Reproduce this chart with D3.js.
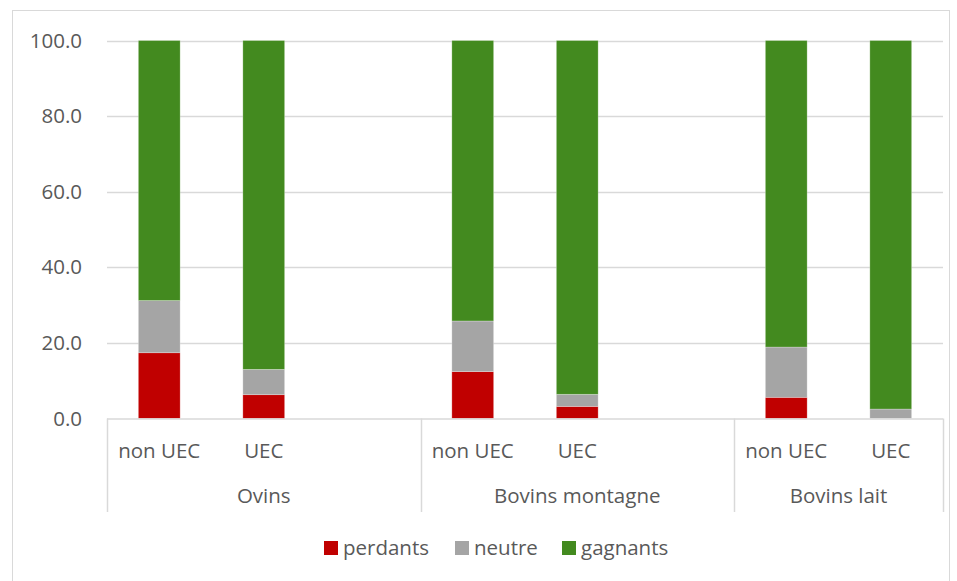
<!DOCTYPE html>
<html><head><meta charset="utf-8">
<script src="https://cdn.jsdelivr.net/npm/d3@7"></script>
<style>body{margin:0;background:#fff}svg{display:block}text{font-family:"Open Sans",sans-serif;fill:#595959}</style>
</head><body><svg id="c" width="957" height="581"></svg>
<script>
const groups = ["Ovins","Bovins montagne","Bovins lait"];
const subCategories = [["non UEC","UEC",""],["non UEC","UEC",""],["non UEC","UEC"]];
const seriesNames = ["perdants","neutre","gagnants"];
const seriesColors = ["#c00000","#a5a5a5","#438a1f"];
// values per bar (in order of slots with bars)
const perdants = [17.4, 6.3, 12.4, 3.2, 5.6, 0.0];
const neutre   = [13.8, 6.7, 13.4, 3.2, 13.3, 2.5];
const gagnants = [68.8, 87.0, 74.2, 93.6, 81.1, 97.5];
const yTicks = [0,20,40,60,80,100];

(function(){
const FS = "20.5px";
const svg = d3.select("#c");
svg.append("rect").attr("x",12.5).attr("y",10.5).attr("width",937).attr("height",575)
  .attr("fill","none").attr("stroke","#d9d9d9");

const pLeft=107, pRight=943, pTop=40.5, pBottom=418.5;
const slots=[];
groups.forEach((g,gi)=>subCategories[gi].forEach((s,si)=>slots.push({g,gi,s,id:gi+"-"+si})));
const x = d3.scaleBand().domain(slots.map(d=>d.id)).range([pLeft,pRight]).paddingInner(0.6).paddingOuter(0.3);
const y = d3.scaleLinear().domain([0,100]).range([pBottom,pTop]);

svg.append("g").selectAll("line").data(yTicks.slice(1)).join("line")
  .attr("x1",pLeft).attr("x2",pRight).attr("y1",d=>Math.round(y(d))+0.5).attr("y2",d=>Math.round(y(d))+0.5)
  .attr("stroke","#d9d9d9").attr("stroke-width",1.5);

const yAxis = d3.axisLeft(y).tickValues(yTicks).tickFormat(d3.format(".1f")).tickSize(0).tickPadding(0);
const ya = svg.append("g").attr("transform","translate(82,0)").call(yAxis);
ya.select(".domain").remove();
ya.selectAll("text").style("font-size",FS).style("font-family","'Open Sans',sans-serif").attr("fill","#595959");

const barSlots = slots.filter(d=>d.s!=="");
const rows = barSlots.map((d,i)=>({id:d.id,perdants:perdants[i],neutre:neutre[i],gagnants:gagnants[i]}));
const stack = d3.stack().keys(seriesNames)(rows);
const color = d3.scaleOrdinal().domain(seriesNames).range(seriesColors);
svg.append("g").selectAll("g").data(stack).join("g").attr("fill",d=>color(d.key))
  .selectAll("rect").data(d=>d).join("rect")
  .attr("x",d=>x(d.data.id)).attr("width",x.bandwidth())
  .attr("y",d=>y(d[1])).attr("height",d=>Math.max(0,y(d[0])-y(d[1])))
  .attr("stroke","rgba(255,255,255,0.35)").attr("stroke-width",0.75);

const axisG = svg.append("g");
axisG.append("line").attr("x1",pLeft).attr("x2",pRight).attr("y1",pBottom+0.5).attr("y2",pBottom+0.5)
  .attr("stroke","#d9d9d9").attr("stroke-width",1.5);
const bounds=[];
groups.forEach((g,gi)=>{
  const ids=slots.filter(d=>d.gi===gi).map(d=>d.id);
  bounds.push(x(ids[ids.length-1])+x.bandwidth()+x.step()*x.paddingInner()/2);
});
const seps=[pLeft, ...bounds.slice(0,-1), pRight];
axisG.selectAll("line.sep").data(seps).join("line").attr("class","sep")
  .attr("x1",d=>Math.round(d)+0.5).attr("x2",d=>Math.round(d)+0.5).attr("y1",pBottom).attr("y2",512)
  .attr("stroke","#d9d9d9").attr("stroke-width",1.5);

svg.append("g").selectAll("text").data(barSlots).join("text")
  .attr("x",d=>x(d.id)+x.bandwidth()/2).attr("y",451).attr("dy","0.35em")
  .attr("text-anchor","middle").style("font-size",FS).text(d=>d.s);
svg.append("g").selectAll("text").data(groups).join("text")
  .attr("x",(d,i)=>(seps[i]+seps[i+1])/2).attr("y",496).attr("dy","0.35em")
  .attr("text-anchor","middle").style("font-size",FS).text(d=>d);

const legendX=[324,455,562];
const lg=svg.append("g").selectAll("g").data(seriesNames).join("g")
  .attr("transform",(d,i)=>`translate(${legendX[i]},541)`);
lg.append("rect").attr("width",14).attr("height",14).attr("fill",d=>color(d));
lg.append("text").attr("x",19).attr("y",7).attr("dy","0.35em").style("font-size",FS).text(d=>d);
})();
</script></body></html>
